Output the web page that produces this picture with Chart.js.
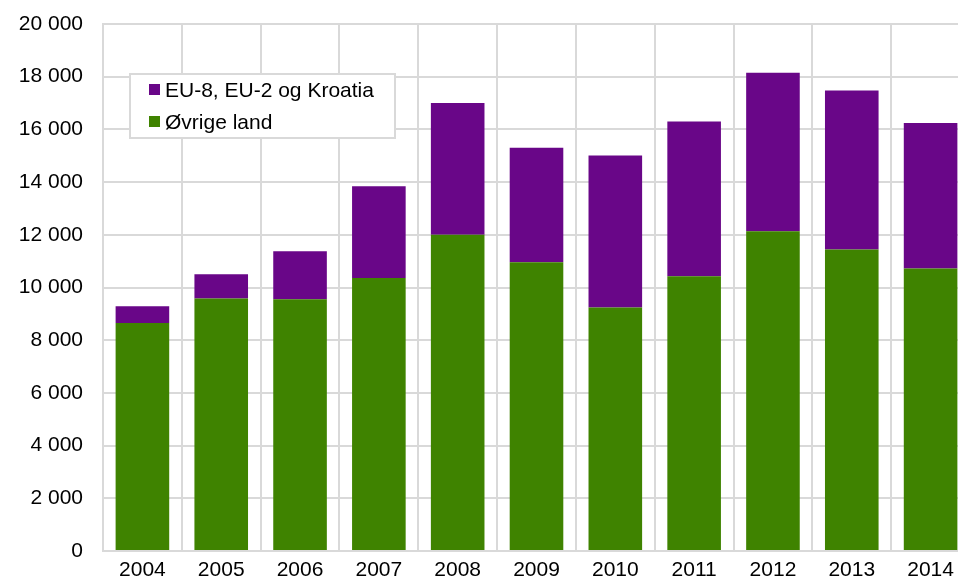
<!DOCTYPE html>
<html>
<head>
<meta charset="utf-8">
<script src="https://cdn.jsdelivr.net/npm/chart.js@4"></script>
<style>
  html, body { margin: 0; padding: 0; background: #fff; overflow: hidden; }
  canvas { display: block; }
</style>
</head>
<body>
<canvas id="chart" width="971" height="578"></canvas>
<script>
const years = ["2004", "2005", "2006", "2007", "2008", "2009", "2010", "2011", "2012", "2013", "2014"];
const ovrigeLand = [8650, 9580, 9550, 10360, 12000, 10960, 9240, 10430, 12130, 11440, 10720];
const euLand = [640, 920, 1830, 3480, 5000, 4340, 5770, 5870, 6020, 6040, 5520];
const yTicks = [0, 2000, 4000, 6000, 8000, 10000, 12000, 14000, 16000, 18000, 20000];

const gridColor = "#d9d9d9";
const fontFamily = "'Liberation Sans', Arial, sans-serif";

function formatNumber(v) {
  return String(v).replace(/\B(?=(\d{3})+(?!\d))/g, " ");
}

// legend drawn as a box inside the plot area, top dataset listed first
const innerLegend = {
  id: "innerLegend",
  afterDraw(chart) {
    const ctx = chart.ctx;
    const area = chart.chartArea;
    const x = area.left + 27;
    const y = area.top + 50;
    const w = 265, h = 64;
    ctx.save();
    ctx.fillStyle = "#fff";
    ctx.fillRect(x, y, w, h);
    ctx.strokeStyle = gridColor;
    ctx.lineWidth = 2;
    ctx.strokeRect(x, y, w, h);
    ctx.font = "21px " + fontFamily;
    ctx.textBaseline = "middle";
    const items = chart.data.datasets.slice().reverse();
    items.forEach((ds, i) => {
      const cy = y + 16 + i * 32;
      ctx.fillStyle = ds.backgroundColor;
      ctx.fillRect(x + 19, cy - 6, 11, 11);
      ctx.fillStyle = "#000";
      ctx.fillText(ds.label, x + 35, cy + 1);
    });
    ctx.restore();
  }
};

new Chart(document.getElementById("chart"), {
  type: "bar",
  data: {
    labels: years,
    datasets: [
      {
        label: "Øvrige land",
        data: ovrigeLand,
        backgroundColor: "#3f8300",
        barPercentage: 0.68,
        categoryPercentage: 1
      },
      {
        label: "EU-8, EU-2 og Kroatia",
        data: euLand,
        backgroundColor: "#690688",
        barPercentage: 0.68,
        categoryPercentage: 1
      }
    ]
  },
  options: {
    responsive: false,
    animation: false,
    layout: { padding: { top: 24, right: 1, left: 0, bottom: 0 } },
    plugins: {
      legend: { display: false },
      tooltip: { enabled: false }
    },
    scales: {
      x: {
        stacked: true,
        grid: { color: gridColor, lineWidth: 2, drawTicks: false, offset: true },
        border: { color: gridColor, width: 2 },
        ticks: {
          color: "#000",
          padding: 7,
          font: { family: fontFamily, size: 21 }
        },
        afterFit(scale) { scale.height = 27; }
      },
      y: {
        stacked: true,
        min: 0,
        max: 20000,
        afterBuildTicks(scale) {
          scale.ticks = yTicks.map(v => ({ value: v }));
        },
        grid: { color: gridColor, lineWidth: 2, drawTicks: false },
        border: { color: gridColor, width: 2 },
        ticks: {
          color: "#000",
          padding: 20,
          font: { family: fontFamily, size: 21 },
          callback: v => formatNumber(v)
        },
        afterFit(scale) {
          scale.width = 103;
          scale.paddingTop = 0;
          scale.paddingBottom = 0;
        }
      }
    }
  },
  plugins: [innerLegend]
});
</script>
</body>
</html>
